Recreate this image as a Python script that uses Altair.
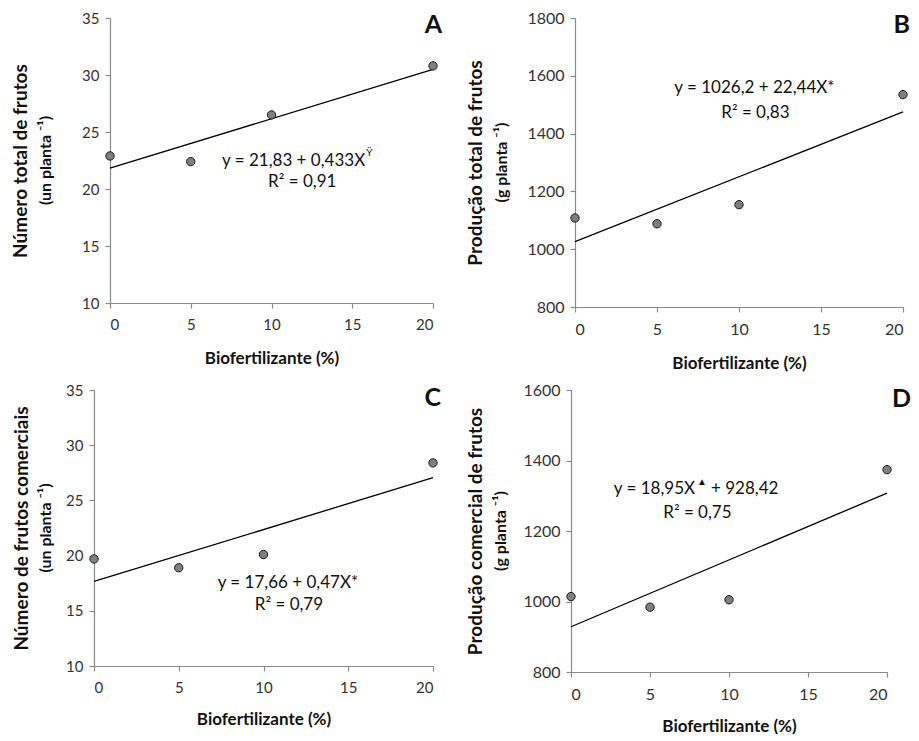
import altair as alt
import pandas as pd

# ---- data ----
x_levels = [0, 5, 10, 20]
frutos_total = [22.9, 22.4, 26.5, 30.8]          # A
producao_total = [1108, 1088, 1154, 1535]        # B
frutos_comerciais = [19.7, 18.9, 20.1, 28.4]     # C
producao_comercial = [1014, 984, 1005, 1374]     # D

fit_x = [0, 20]
fit_a = [21.83, 30.49]
fit_b = [1026.2, 1475.0]
fit_c = [17.66, 27.06]
fit_d = [928.42, 1307.42]

x_ticks = [0, 5, 10, 15, 20]
ticks_a = [10, 15, 20, 25, 30, 35]
ticks_b = [800, 1000, 1200, 1400, 1600, 1800]
ticks_c = [10, 15, 20, 25, 30, 35]
ticks_d = [800, 1000, 1200, 1400, 1600]

FONT = "Lato"
AXIS_GRAY = "#8a8a8a"
LABEL_COLOR = "#333333"


def panel(xs, ys, fy, ticks, title, sub, letter, annots, w, h,
          title_x, sub_x, label_size, letter_dx, letter_y, xtitle_pad=18, x0=0):
    pts = pd.DataFrame({"x": xs, "y": ys})
    fit = pd.DataFrame({"x": fit_x, "y": fy})
    xscale = alt.Scale(domain=[0, 20], nice=False, range=[x0, w])
    yscale = alt.Scale(domain=[ticks[0], ticks[-1]], nice=False, zero=False)
    xaxis = alt.Axis(values=x_ticks, title="Biofertilizante (%)", labelFontSize=label_size,
                     titleFontSize=17, titlePadding=xtitle_pad, labelPadding=9, format="d")
    yaxis = alt.Axis(values=ticks, title=title, labelFontSize=label_size, format="d",
                     titleFontSize=19, titleX=title_x, titleY=h / 2, offset=-x0,
                     titleBaseline="middle", titleAngle=270, labelPadding=6)

    line = alt.Chart(fit).mark_line(color="black", strokeWidth=1.3).encode(
        x=alt.X("x:Q", scale=xscale, axis=xaxis),
        y=alt.Y("y:Q", scale=yscale, axis=yaxis),
    )
    points = alt.Chart(pts).mark_point(
        filled=True, fill="#7f7f7f", stroke="#1a1a1a", strokeWidth=1, size=70, opacity=1
    ).encode(x="x:Q", y="y:Q")

    layers = [line, points]
    for a in annots:
        df = pd.DataFrame({"x": [a["x"]], "y": [a["y"]], "t": [a["text"]]})
        layers.append(
            alt.Chart(df).mark_text(
                font=FONT, fontSize=a.get("size", 17), align=a.get("align", "center"),
                baseline="middle", dx=a.get("dx", 0), dy=a.get("dy", 0), color="#111111"
            ).encode(x="x:Q", y="y:Q", text="t:N")
        )
    lab = pd.DataFrame({"t": [letter]})
    layers.append(
        alt.Chart(lab).mark_text(font=FONT, fontSize=25, fontWeight="bold", align="right",
                                 baseline="alphabetic", color="#111111").encode(
            x=alt.value(w + letter_dx), y=alt.value(letter_y), text="t:N")
    )
    subdf = pd.DataFrame({"t": [sub]})
    layers.append(
        alt.Chart(subdf).mark_text(font=FONT, fontSize=16, fontWeight="bold", angle=270,
                                   align="center", baseline="middle", color="#111111").encode(
            x=alt.value(x0 + sub_x), y=alt.value(h / 2), text="t:N")
    )
    return alt.layer(*layers).properties(width=w, height=h)


pA = panel(x_levels, frutos_total, fit_a, ticks_a, "Número total de frutos", "(un planta ⁻¹)", "A",
           [dict(x=15.8, y=22.46, text="y = 21,83 + 0,433X", align="right"),
            dict(x=15.8, y=22.46, text="Ÿ", align="left", size=10, dx=1, dy=-8),
            dict(x=11.9, y=20.6, text="R² = 0,91")],
           339, 285, -89.5, -64, 15, 9, 15, 18, 16)
pB = panel(x_levels, producao_total, fit_b, ticks_b, "Produção total de frutos", "(g  planta ⁻¹)", "B",
           [dict(x=10.94, y=1557, text="y = 1026,2 + 22,44X*"),
            dict(x=11.0, y=1471, text="R² = 0,83")],
           332, 289, -100, -73, 16, 7, 15, 18, 4)
pC = panel(x_levels, frutos_comerciais, fit_c, ticks_c, "Número de frutos comerciais", "(un planta ⁻¹)", "C",
           [dict(x=11.44, y=17.5, text="y = 17,66 + 0,47X*"),
            dict(x=11.5, y=15.5, text="R² = 0,79")],
           339, 276, -73, -48, 15, 8, 16, 16)
pD = panel(x_levels, producao_comercial, fit_d, ticks_d, "Produção comercial de frutos", "(g  planta ⁻¹)", "D",
           [dict(x=7.85, y=1320, text="y = 18,95X", align="right"),
            dict(x=7.85, y=1320, text="▲", align="left", size=10, dx=2, dy=-7),
            dict(x=8.86, y=1320, text="+ 928,42", align="left"),
            dict(x=8.0, y=1252, text="R² = 0,75")],
           316, 282, -96, -70, 16, 24, 17, 16)

chart = alt.concat(
    pA, pB, pC, pD, columns=2,
    spacing={"row": 11, "column": 24},
).properties(
    padding={"left": 3, "top": 2, "right": 0, "bottom": 0}
).configure_view(stroke=None).configure_axis(
    grid=False, domainColor=AXIS_GRAY, tickColor=AXIS_GRAY, tickSize=5,
    labelFont=FONT, titleFont=FONT, labelColor=LABEL_COLOR, titleColor="#111111",
    titleFontWeight="bold", domainWidth=1.2, tickWidth=1.2
)

chart.save("out.html", embed_options={"renderer": "svg", "actions": False})
